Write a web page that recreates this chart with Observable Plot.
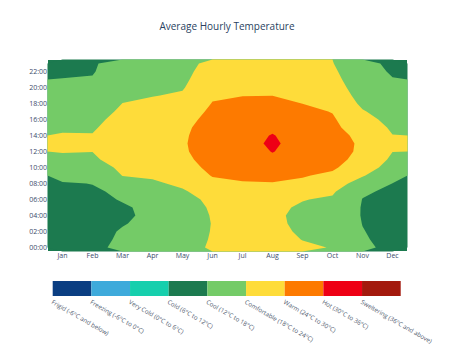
<!DOCTYPE html>
<html>
<head>
<meta charset="utf-8">
<script src="https://cdn.jsdelivr.net/npm/d3@7"></script>
<script src="https://cdn.jsdelivr.net/npm/@observablehq/plot@0.6"></script>
<style>
  body { margin: 0; background: #fff; font-family: "Open Sans", sans-serif; }
  #wrap { position: relative; width: 454px; height: 355px; overflow: hidden; background: #fff; }
  #chart { position: absolute; top: 0; left: 0; }
  #title { position: absolute; top: 18.5px; left: 0; width: 454px; text-align: center;
           font-family: "Open Sans", sans-serif; font-size: 10px; line-height: 14px; color: #2a3f5f; }
  #legend { position: absolute; top: 270px; left: 0; }
</style>
</head>
<body>
<div id="wrap">
  <div id="chart"></div>
  <div id="title">Average Hourly Temperature</div>
  <div id="legend"></div>
</div>
<script>
// Category / tick labels
const months = ["Jan","Feb","Mar","Apr","May","Jun","Jul","Aug","Sep","Oct","Nov","Dec"];
const hourTicks = [0,2,4,6,8,10,12,14,16,18,20,22];

// Average temperature (°C) for hours 00..23, one array per month
const jan = [10.6,10.2,9.9,9.6,9.4,9.3,9.4,10.2,11.6,13.6,15.5,17.4,18.15,18.6,18.3,17.4,16.3,15.2,14.3,13.5,12.8,12.1,11.5,11.0];
const feb = [11.2,11.0,10.8,10.6,10.5,10.5,10.8,11.4,12.1,13.8,15.6,17.3,18.05,18.7,18.25,17.4,16.6,15.6,14.8,14.0,13.2,12.4,11.6,11.3];
const mar = [12.8,12.5,12.3,11.8,11.4,11.5,12.3,12.8,16.5,18.1,19.0,20.0,20.6,21.0,21.0,20.6,19.8,18.9,18.05,17.4,16.8,16.2,15.5,14.8];
const apr = [13.8,13.4,13.1,12.9,12.8,13.0,13.8,15.2,17.0,18.9,20.5,21.8,22.6,23.0,23.0,22.6,21.6,20.4,19.0,17.8,17.1,16.5,16.0,15.5];
const may = [15.6,15.2,14.9,14.7,14.6,14.9,15.9,17.3,19.2,21.0,22.5,23.2,23.5,23.6,23.5,23.3,22.6,21.4,20.0,18.6,17.6,17.0,16.6,16.3];
const jun = [18.8,18.5,18.3,18.2,18.4,18.8,19.4,21.0,23.0,24.25,24.9,25.3,25.8,26.0,25.8,25.5,25.3,24.9,24.2,23.4,22.3,21.2,20.3,19.4];
const jul = [20.5,20.0,19.7,19.5,19.5,19.8,20.6,22.0,23.6,25.0,26.3,27.3,28.0,28.6,28.5,28.0,27.2,26.1,24.9,23.9,22.8,21.9,21.2,20.8];
const aug = [20.2,19.6,19.2,18.9,18.8,19.0,20.0,22.0,23.8,25.0,26.8,29.2,30.15,30.6,30.2,29.3,28.2,26.9,25.5,23.95,23.0,22.2,21.6,21.2];
const sep = [18.8,17.9,17.4,17.1,17.0,17.4,18.2,20.5,23.2,24.3,26.0,27.3,28.2,28.4,28.2,27.6,26.6,25.2,23.95,22.8,21.6,20.7,20.0,19.5];
const oct = [17.8,17.0,16.5,16.1,15.9,16.2,17.3,18.7,21.0,23.2,24.6,25.4,25.8,25.9,25.6,25.0,24.6,23.8,22.6,21.5,20.5,19.6,18.9,18.2];
const nov = [12.8,12.5,12.2,11.9,11.7,11.7,11.9,12.6,15.2,18.5,21.5,22.6,23.2,23.3,22.8,21.6,20.0,18.4,17.0,16.0,15.2,14.6,14.0,13.6];
const dec = [11.0,10.5,10.2,10.0,9.8,9.8,10.1,11.2,11.95,13.4,15.1,17.0,18.05,18.6,18.1,17.2,16.2,15.4,14.6,13.8,13.0,12.2,11.5,10.9];

// Temperature bands
const bandBreaks = [-6, 0, 6, 12, 18, 24, 30, 36];
const bandLabels = [
  "Frigid (-6°C and below)",
  "Freezing (-6°C to 0°C)",
  "Very Cold (0°C to 6°C)",
  "Cold (6°C to 12°C)",
  "Cool (12°C to 18°C)",
  "Comfortable (18°C to 24°C)",
  "Warm (24°C to 30°C)",
  "Hot (30°C to 36°C)",
  "Sweltering (36°C and above)"
];
const bandColors = ["#0b3e82","#3eaadb","#16cfad","#1c7a4f","#74cb67","#fedc3a","#fd7a00","#ee0015","#a3190d"];

// Build the grid (row = hour, column = month)
const temps = [jan, feb, mar, apr, may, jun, jul, aug, sep, oct, nov, dec];
const grid = [];
for (let h = 0; h < 24; h++) for (let m = 0; m < 12; m++) grid.push(temps[m][h]);

const chart = Plot.plot({
  width: 454,
  height: 270,
  marginTop: 59,
  marginBottom: 19,
  marginLeft: 47,
  marginRight: 47,
  style: { fontFamily: "Open Sans", fontSize: "7px", color: "#3b4c6b", background: "white" },
  x: { domain: [-0.5, 11.5], ticks: d3.range(12), tickFormat: i => months[i], tickSize: 0, tickPadding: 1.5, label: null },
  y: { domain: [-0.5, 23.5], ticks: hourTicks, tickFormat: h => String(h).padStart(2, "0") + ":00", tickSize: 0, tickPadding: 0.5, label: null },
  color: { type: "threshold", domain: bandBreaks, range: bandColors },
  marks: [
    // lowest band present in the data, hidden under the contours except at the corners
    Plot.frame({ fill: bandColors[3], stroke: null, inset: 0.5 }),
    Plot.contour(grid, {
      width: 12, height: 24,
      x1: -0.5, x2: 11.5, y1: -0.5, y2: 23.5,
      value: Plot.identity,
      thresholds: bandBreaks.slice(2),
      fill: "value",
      stroke: "none"
    })
  ]
});
document.getElementById("chart").append(chart);

const legend = Plot.plot({
  width: 454,
  height: 85,
  margin: 0,
  style: { fontFamily: "Open Sans", background: "white" },
  x: { type: "linear", domain: [0, 9], range: [52.7, 400.7], axis: null },
  y: { type: "linear", domain: [0, 1], range: [11, 26], axis: null },
  color: { type: "ordinal", domain: bandLabels, range: bandColors },
  marks: [
    Plot.rect(bandLabels, { x1: (d, i) => i, x2: (d, i) => i + 1, y1: 0, y2: 1, fill: d => d }),
    Plot.text(bandLabels, { x: (d, i) => i, y: 1, dy: 3, text: d => d, rotate: 30,
      textAnchor: "start", lineAnchor: "top", fontSize: 6.2, fill: "#4f5a6e" })
  ]
});
document.getElementById("legend").append(legend);
</script>
</body>
</html>
